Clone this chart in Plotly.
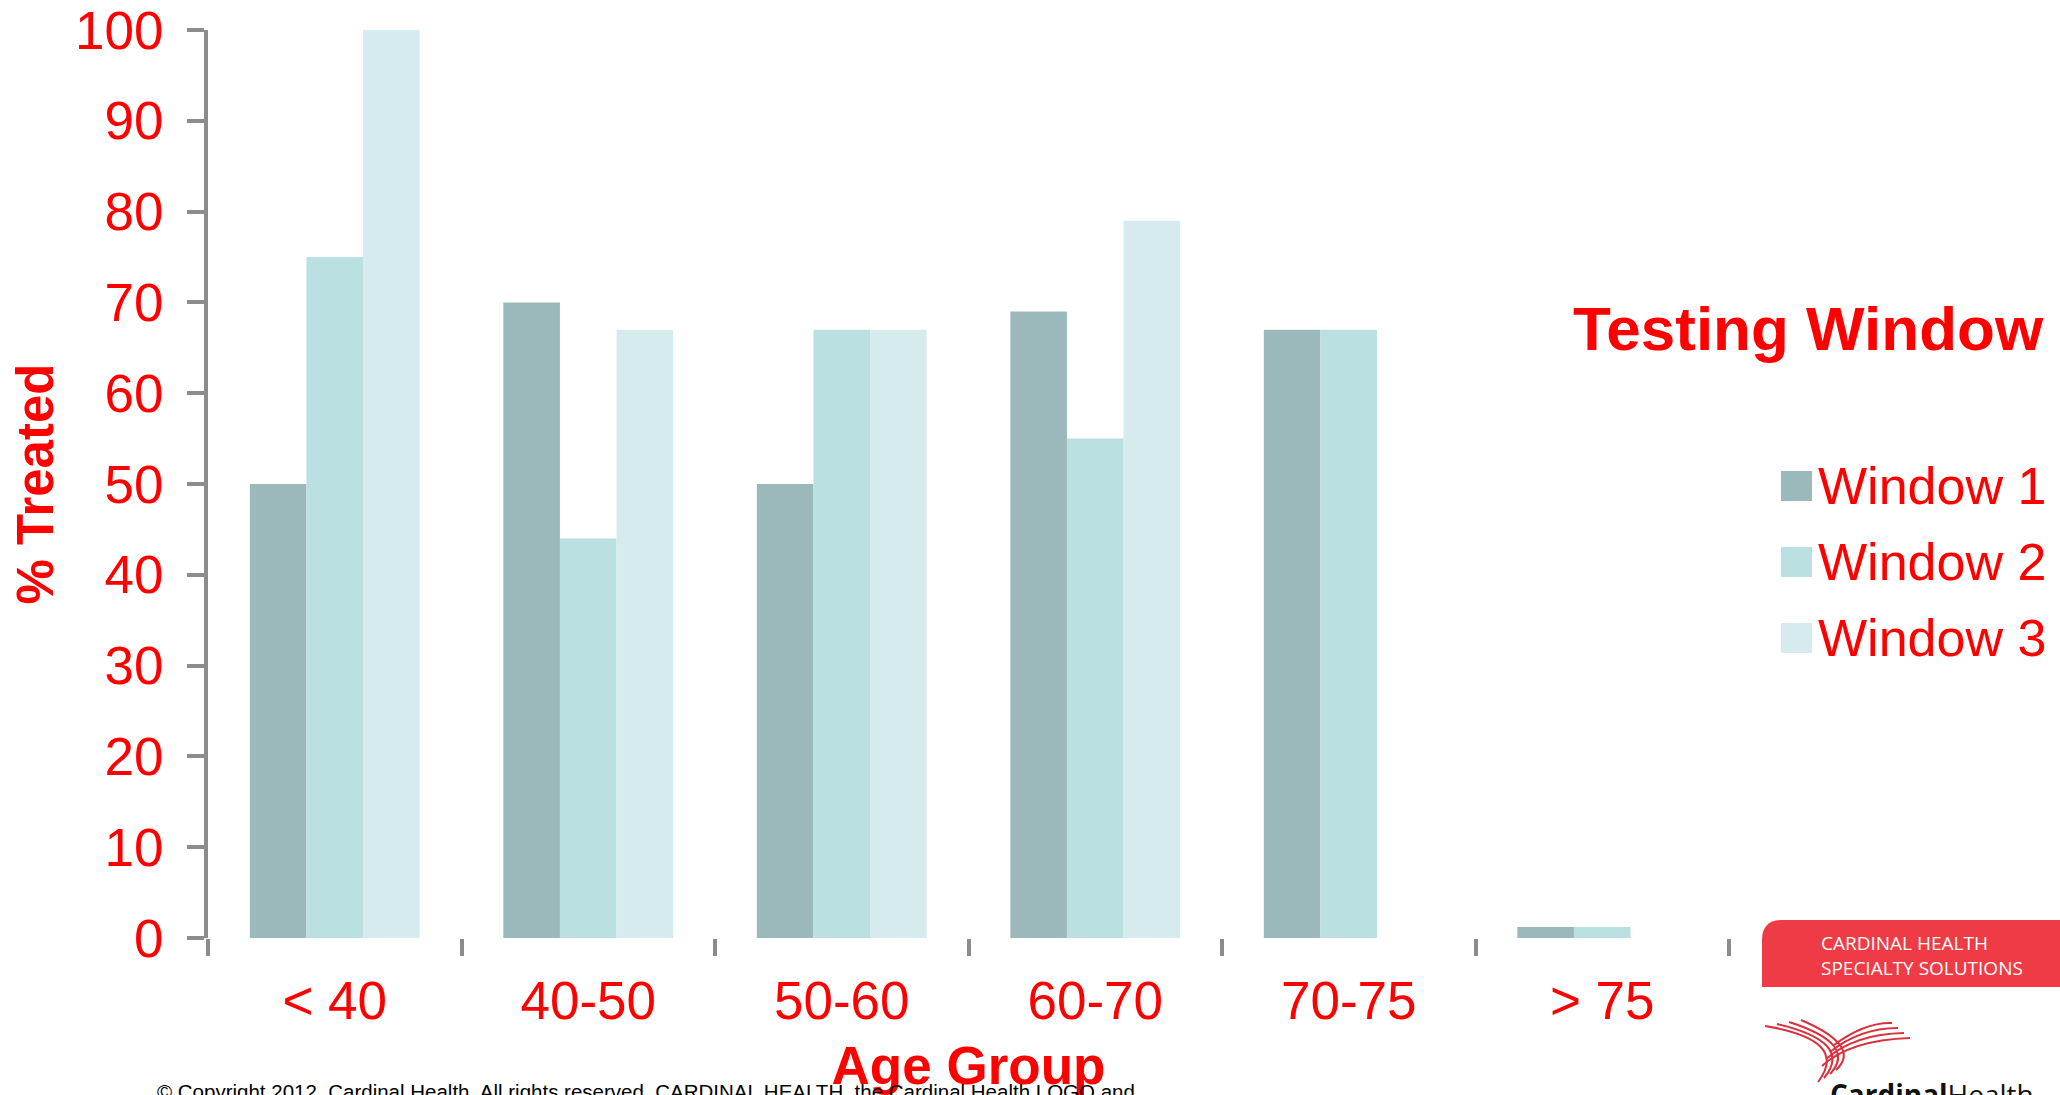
import plotly.graph_objects as go

# ---- data -------------------------------------------------------------
age_groups = ["< 40", "40-50", "50-60", "60-70", "70-75", "> 75"]
series_names = ["Window 1", "Window 2", "Window 3"]
window1 = [50, 70, 50, 69, 67, 1.2]
window2 = [75, 44, 67, 55, 67, 1.2]
window3 = [100, 67, 67, 79, None, None]
series_values = [window1, window2, window3]
y_ticks = [0, 10, 20, 30, 40, 50, 60, 70, 80, 90, 100]

colors = ["#9BB9BA", "#BAE0E2", "#D6EBEE"]
RED = "#FF0000"
GREY = "#8C8C8C"
FONT = "Liberation Sans, Arial, sans-serif"

W, H = 2060, 1095
PL, PR, PT, PB = 208, 1729, 30, 938  # plot-area edges in pixels


def px(x):
    return (x - PL) / (PR - PL)


def py(y):
    return (PB - y) / (PB - PT)


fig = go.Figure()
for name, vals, col in zip(series_names, series_values, colors):
    fig.add_trace(go.Bar(x=age_groups, y=vals, name=name,
                         marker=dict(color=col, line=dict(width=0)),
                         showlegend=False))

shapes = []
annotations = []

# legend: title, swatches and labels
annotations.append(dict(text="<b>Testing Window</b>", x=px(2046), y=py(328),
                        xref="paper", yref="paper", xanchor="right", yanchor="middle",
                        showarrow=False, font=dict(family=FONT, size=62, color=RED)))
for i, (name, col) in enumerate(zip(series_names, colors)):
    cy = 486 + 76 * i
    shapes.append(dict(type="rect", xref="paper", yref="paper",
                       x0=px(1781), x1=px(1812), y0=py(cy - 15), y1=py(cy + 15),
                       fillcolor=col, line=dict(width=0)))
    annotations.append(dict(text=name, x=px(1816), y=py(cy), xref="paper", yref="paper",
                            xanchor="left", yanchor="middle", showarrow=False,
                            font=dict(family=FONT, size=52, color=RED)))

# footer banner with rounded top-left corner
bx0, bx1, by0, by1, r = 1762, 2062, 920, 987, 20
path = (f"M {px(bx0)},{py(by1)} L {px(bx0)},{py(by0 + r)} "
        f"Q {px(bx0)},{py(by0)} {px(bx0 + r)},{py(by0)} "
        f"L {px(bx1)},{py(by0)} L {px(bx1)},{py(by1)} Z")
shapes.append(dict(type="path", xref="paper", yref="paper", path=path,
                   fillcolor="#EF3B45", line=dict(width=0)))
annotations.append(dict(text="CARDINAL HEALTH<br>SPECIALTY SOLUTIONS",
                        x=px(1819), y=py(955), xref="paper", yref="paper",
                        xanchor="left", yanchor="middle", align="left", showarrow=False,
                        font=dict(family="Open Sans, sans-serif", size=19, color="white")))

# logo swoosh
for i in range(4):
    p = (f"M {px(1765 + 12 * i)},{py(1026 - 2 * i)} "
         f"Q {px(1850 + 4 * i)},{py(1040 + 2 * i)} {px(1818 + 6 * i)},{py(1082 - 4 * i)}")
    shapes.append(dict(type="path", xref="paper", yref="paper", path=p,
                       line=dict(color="#D9303C", width=2)))
    p2 = (f"M {px(1822 + 4 * i)},{py(1066 - 7 * i)} "
          f"Q {px(1850 + 5 * i)},{py(1040 - 6 * i)} {px(1910 - 6 * i)},{py(1038 - 5 * i)}")
    shapes.append(dict(type="path", xref="paper", yref="paper", path=p2,
                       line=dict(color="#D9303C", width=2)))

annotations.append(dict(text="<b>Cardinal</b>Health", x=px(1828), y=py(1073),
                        xref="paper", yref="paper", xanchor="left", yanchor="top",
                        showarrow=False,
                        font=dict(family="Open Sans, sans-serif", size=28, color="#111111")))

# copyright line
annotations.append(dict(text="© Copyright 2012, Cardinal Health. All rights reserved. "
                             "CARDINAL HEALTH, the Cardinal Health LOGO and",
                        x=px(155), y=py(1078), xref="paper", yref="paper",
                        xanchor="left", yanchor="top", showarrow=False,
                        font=dict(family=FONT, size=20.5, color="black")))

fig.update_layout(
    width=W, height=H,
    margin=dict(l=PL, r=W - PR, t=PT, b=H - PB, autoexpand=False),
    paper_bgcolor="white", plot_bgcolor="white",
    barmode="group", bargap=0.33, bargroupgap=0,
    shapes=shapes, annotations=annotations,
    showlegend=False,
    font=dict(family=FONT, color=RED),
)
fig.update_xaxes(
    type="category", tickson="boundaries", ticks="outside", ticklen=17,
    tickwidth=4, tickcolor=GREY, showline=False, showgrid=False, zeroline=False,
    tickfont=dict(family=FONT, size=53, color=RED), ticklabelstandoff=27,
    title=dict(text="<b>Age Group</b>", font=dict(family=FONT, size=53, color=RED),
               standoff=17),
    automargin=False,
)
fig.update_yaxes(
    range=[0, 100], tickvals=y_ticks, ticks="outside", ticklen=17, tickwidth=4,
    tickcolor=GREY, showline=True, linewidth=4, linecolor=GREY, showgrid=False,
    zeroline=False, tickfont=dict(family=FONT, size=53, color=RED),
    ticklabelstandoff=13,
    title=dict(text="<b>% Treated</b>", font=dict(family=FONT, size=51, color=RED),
               standoff=6),
    automargin=False,
)

fig.write_html("out.html")
